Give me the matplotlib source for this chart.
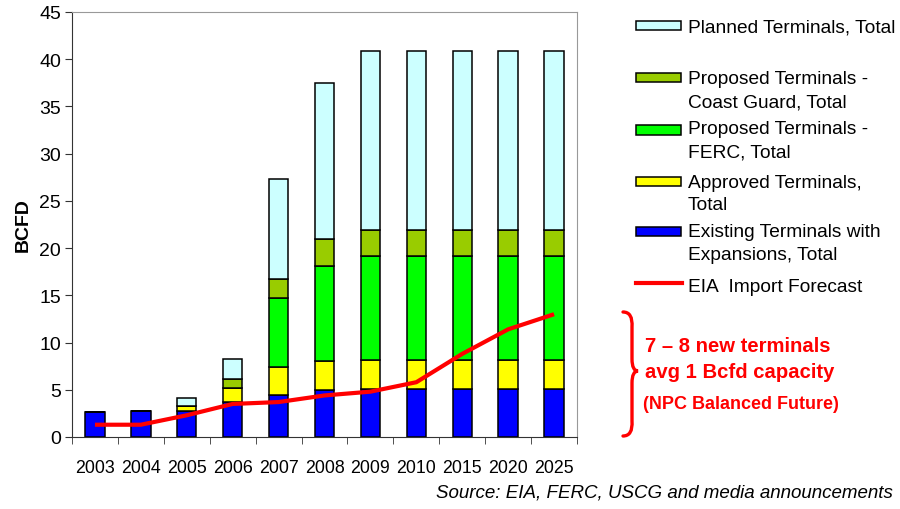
import matplotlib
matplotlib.use("Agg")
import matplotlib.pyplot as plt
import numpy as np
from matplotlib.patches import Rectangle, PathPatch
from matplotlib.path import Path
from matplotlib.lines import Line2D

plt.rcParams["font.family"] = ["Liberation Sans", "DejaVu Sans"]

years = ["2003", "2004", "2005", "2006", "2007", "2008", "2009", "2010", "2015", "2020", "2025"]
existing = [2.6, 2.75, 2.75, 3.7, 4.4, 5.0, 5.1, 5.1, 5.1, 5.1, 5.1]
approved = [0, 0, 0.5, 1.5, 3.0, 3.1, 3.1, 3.1, 3.1, 3.1, 3.1]
ferc = [0, 0, 0, 0, 7.3, 10.0, 11.0, 11.0, 11.0, 11.0, 11.0]
coast_guard = [0, 0, 0, 0.9, 2.0, 2.9, 2.7, 2.7, 2.7, 2.7, 2.7]
planned = [0, 0, 0.9, 2.2, 10.6, 16.5, 19.0, 19.0, 19.0, 19.0, 19.0]
eia_forecast = [1.3, 1.3, 2.3, 3.5, 3.7, 4.4, 4.8, 5.8, 8.8, 11.4, 13.0]

series = [
    (existing, "#0000FF", ["Existing Terminals with", "Expansions, Total"]),
    (approved, "#FFFF00", ["Approved Terminals,", "Total"]),
    (ferc, "#00FF00", ["Proposed Terminals -", "FERC, Total"]),
    (coast_guard, "#99CC00", ["Proposed Terminals -", "Coast Guard, Total"]),
    (planned, "#CCFFFF", ["Planned Terminals, Total"]),
]

W, H = 900, 510
fig = plt.figure(figsize=(9, 5.1), dpi=100)
ax = fig.add_axes([72 / W, 72 / H, 505 / W, 425 / H])

x = np.arange(len(years))
bottom = np.zeros(len(years))
for vals, col, _ in series:
    ax.bar(x, vals, 0.42, bottom=bottom, color=col, edgecolor="black", linewidth=1.1, zorder=2)
    bottom += np.array(vals)
ax.plot(x, eia_forecast, color="#FF0000", lw=3, solid_capstyle="butt", zorder=3)

ax.set_xlim(-0.5, len(years) - 0.5)
ax.set_ylim(0, 45)
ax.set_yticks(np.arange(0, 46, 5))
ax.set_xticks(x)
ax.set_xticklabels(years)
ax.set_xticks(np.arange(-0.5, len(years), 1), minor=True)
ax.tick_params(axis="x", which="major", length=0, pad=16, labelsize=12.8)
ax.tick_params(axis="x", which="minor", length=5, direction="out", color="#333333")
ax.tick_params(axis="y", length=5, direction="out", color="#333333", labelsize=14, pad=3)
for s in ["top", "right"]:
    ax.spines[s].set_color("#999999")
for s in ["left", "bottom"]:
    ax.spines[s].set_color("#333333")
ax.set_ylabel("BCFD", fontsize=14, fontweight="bold", labelpad=5)


def fx(px):
    return px / W


def fy(py):
    return 1 - py / H


# legend drawn by hand to follow the reference's spacing
leg = [
    (series[4], 26, [28]),
    (series[3], 78, [80, 103]),
    (series[2], 131, [130, 153]),
    (series[1], 182, [183, 206]),
    (series[0], 232, [233, 256]),
]
for (vals, col, lines), py, tys in leg:
    fig.patches.append(Rectangle((fx(636), fy(py + 4.5)), 45 / W, 9 / H, transform=fig.transFigure,
                                 facecolor=col, edgecolor="black", lw=1.1))
    for t, ty in zip(lines, tys):
        fig.text(fx(688), fy(ty), t, fontsize=13.8, va="center", ha="left")
fig.lines.append(Line2D([fx(636), fx(682)], [fy(284), fy(284)], transform=fig.transFigure,
                        color="#FF0000", lw=3))
fig.text(fx(688), fy(287), "EIA  Import Forecast", fontsize=13.8, va="center", ha="left")

# red brace and annotation
pts = [(623, 313), (633, 313), (632, 328), (632, 360), (632, 372), (638, 372),
       (632, 372), (632, 384), (632, 422), (633, 437), (623, 437)]
codes = [Path.MOVETO, Path.CURVE3, Path.CURVE3, Path.LINETO, Path.CURVE3, Path.CURVE3,
         Path.CURVE3, Path.CURVE3, Path.LINETO, Path.CURVE3, Path.CURVE3]
brace = Path([(fx(a), fy(b)) for a, b in pts], codes)
fig.patches.append(PathPatch(brace, transform=fig.transFigure, facecolor="none",
                             edgecolor="#FF0000", lw=2.4, capstyle="round"))
fig.text(fx(645), fy(346), "7 \u2013 8 new terminals", color="#FF0000", fontsize=14.6,
         fontweight="bold", va="center")
fig.text(fx(645), fy(373), "avg 1 Bcfd capacity", color="#FF0000", fontsize=14.6,
         fontweight="bold", va="center")
fig.text(fx(643), fy(405), "(NPC Balanced Future)", color="#FF0000", fontsize=13,
         fontweight="bold", va="center")

fig.text(fx(893), fy(493), "Source: EIA, FERC, USCG and media announcements", fontsize=13.5,
         style="italic", ha="right", va="center")

fig.savefig("out.png", dpi=100)
